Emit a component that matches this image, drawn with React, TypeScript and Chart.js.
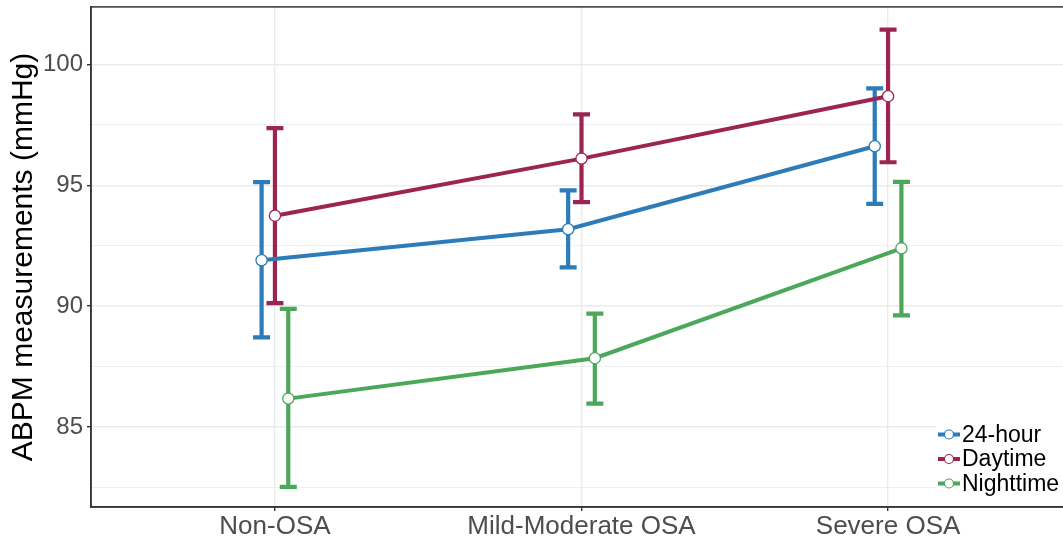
import React, { useEffect, useRef } from 'react';
import { Chart, registerables } from 'chart.js';

Chart.register(...registerables);

const categories = ['Non-OSA', 'Mild-Moderate OSA', 'Severe OSA'];
const seriesNames = ['24-hour', 'Daytime', 'Nighttime'];
const seriesColors = ['#2b7cb9', '#9c2452', '#4ba759'];
const dodgeOffsets = [-0.0435, 0, 0.0435];

const mean24 = [91.9, 93.18, 96.61];
const low24 = [88.71, 91.6, 94.23];
const high24 = [95.13, 94.79, 99.0];

const meanDay = [93.74, 96.1, 98.68];
const lowDay = [90.13, 94.3, 95.95];
const highDay = [97.36, 97.93, 101.43];

const meanNight = [86.18, 87.85, 92.39];
const lowNight = [82.53, 85.97, 89.62];
const highNight = [89.89, 89.69, 95.14];

const yTicks = [82.5, 85, 87.5, 90, 92.5, 95, 97.5, 100];
const yMajorTicks = [85, 90, 95, 100];

const means = [mean24, meanDay, meanNight];
const lows = [low24, lowDay, lowNight];
const highs = [high24, highDay, highNight];

const FONT = '"Liberation Sans", Arial, Helvetica, sans-serif';

export default function App() {
  const ref = useRef<HTMLCanvasElement | null>(null);

  useEffect(() => {
    if (!ref.current) return;

    const lineSets = seriesNames.map((name, s) => ({
      type: 'line' as const,
      label: name,
      data: categories.map((_, i) => ({ x: i + 1 + dodgeOffsets[s], y: means[s][i] })),
      borderColor: seriesColors[s],
      backgroundColor: seriesColors[s],
      borderWidth: 4,
      pointRadius: 0,
      fill: false,
      tension: 0,
      order: 2,
    }));
    const pointSets = seriesNames.map((name, s) => ({
      type: 'line' as const,
      label: name + ' points',
      data: categories.map((_, i) => ({ x: i + 1 + dodgeOffsets[s], y: means[s][i] })),
      borderColor: seriesColors[s],
      backgroundColor: '#ffffff',
      showLine: false,
      pointRadius: 5.6,
      pointBorderWidth: 1.3,
      pointBackgroundColor: '#ffffff',
      pointBorderColor: seriesColors[s],
      order: 1,
    }));

    const errorBars = {
      id: 'errorBars',
      beforeDatasetsDraw(chart: any) {
        const { ctx, scales } = chart;
        const xs = scales.x;
        const ys = scales.y;
        ctx.save();
        ctx.lineCap = 'butt';
        seriesNames.forEach((_, s) => {
          ctx.strokeStyle = seriesColors[s];
          ctx.lineWidth = 4.2;
          categories.forEach((__, i) => {
            const x = xs.getPixelForValue(i + 1 + dodgeOffsets[s]);
            const yl = ys.getPixelForValue(lows[s][i]);
            const yh = ys.getPixelForValue(highs[s][i]);
            ctx.beginPath();
            ctx.moveTo(x, yl);
            ctx.lineTo(x, yh);
            ctx.moveTo(x - 8.5, yl);
            ctx.lineTo(x + 8.5, yl);
            ctx.moveTo(x - 8.5, yh);
            ctx.lineTo(x + 8.5, yh);
            ctx.stroke();
          });
        });
        ctx.restore();
      },
    };

    const frameAndLegend = {
      id: 'frameAndLegend',
      afterDraw(chart: any) {
        const { ctx, chartArea } = chart;
        ctx.save();
        ctx.strokeStyle = '#333333';
        ctx.lineWidth = 1.5;
        ctx.strokeRect(chartArea.left, chartArea.top, chartArea.right - chartArea.left, chartArea.bottom - chartArea.top);

        // legend
        ctx.fillStyle = '#ffffff';
        ctx.fillRect(936, 421, 130, 76);
        const rows = [434.5, 459, 483.5];
        seriesNames.forEach((name, s) => {
          const y = rows[s];
          ctx.strokeStyle = seriesColors[s];
          ctx.lineWidth = 4;
          ctx.beginPath();
          ctx.moveTo(938, y);
          ctx.lineTo(960, y);
          ctx.stroke();
          ctx.beginPath();
          ctx.arc(949, y, 4.5, 0, Math.PI * 2);
          ctx.fillStyle = '#ffffff';
          ctx.fill();
          ctx.lineWidth = 1.2;
          ctx.stroke();
          ctx.fillStyle = '#000000';
          ctx.font = `23px ${FONT}`;
          ctx.textAlign = 'left';
          ctx.textBaseline = 'middle';
          ctx.fillText(name, 962, y + 1);
        });
        ctx.restore();
      },
    };

    const chart = new Chart(ref.current, {
      type: 'line',
      data: { datasets: [...pointSets, ...lineSets] as any },
      options: {
        animation: false,
        responsive: false,
        layout: { padding: { top: 6, right: 8, left: 0, bottom: 0 } },
        plugins: { legend: { display: false }, tooltip: { enabled: false } },
        scales: {
          x: {
            type: 'linear',
            min: 0.4,
            max: 3.6,
            afterBuildTicks(scale: any) {
              scale.ticks = categories.map((_, i) => ({ value: i + 1 }));
            },
            afterFit(scale: any) {
              scale.height = 36;
              scale.paddingLeft = 0;
              scale.paddingRight = 0;
            },
            ticks: {
              autoSkip: false,
              maxRotation: 0,
              padding: 0,
              color: '#4d4d4d',
              font: { family: FONT, size: 26 },
              callback: (v: any) => {
                const idx = Math.round(Number(v)) - 1;
                return categories[idx] ?? '';
              },
            },
            grid: {
              color: '#ebebeb',
              lineWidth: 1.4,
              tickColor: '#333333',
              tickLength: 4,
              tickWidth: 1.4,
            },
            border: { display: true, color: '#333333', width: 1.5 },
          },
          y: {
            type: 'linear',
            min: 81.7,
            max: 102.37,
            afterBuildTicks(scale: any) {
              scale.ticks = yTicks.map((v) => ({ value: v }));
            },
            afterFit(scale: any) {
              scale.width = 91;
              scale.paddingTop = 0;
              scale.paddingBottom = 0;
            },
            ticks: {
              autoSkip: false,
              padding: 4,
              color: '#4d4d4d',
              font: { family: FONT, size: 24 },
              callback: (v: any) => (yMajorTicks.includes(Number(v)) ? String(v) : ''),
            },
            grid: {
              color: '#ebebeb',
              lineWidth: (c: any) => (c.tick && yMajorTicks.includes(c.tick.value) ? 1.4 : 0.8),
              tickColor: (c: any) => (c.tick && yMajorTicks.includes(c.tick.value) ? '#333333' : 'rgba(0,0,0,0)'),
              tickLength: 4,
              tickWidth: 1.4,
            },
            border: { display: true, color: '#333333', width: 1.5 },
            title: {
              display: true,
              text: 'ABPM measurements (mmHg)',
              color: '#000000',
              font: { family: FONT, size: 30 },
              padding: { top: 6, bottom: 0 },
            },
          },
        },
      },
      plugins: [errorBars, frameAndLegend],
    });

    return () => chart.destroy();
  }, []);

  return (
    <div style={{ position: 'fixed', left: 0, top: 0, width: 1063, height: 543, overflow: 'hidden', background: '#ffffff' }}>
      <canvas ref={ref} width={1080} height={543} style={{ display: 'block' }} />
    </div>
  );
}
